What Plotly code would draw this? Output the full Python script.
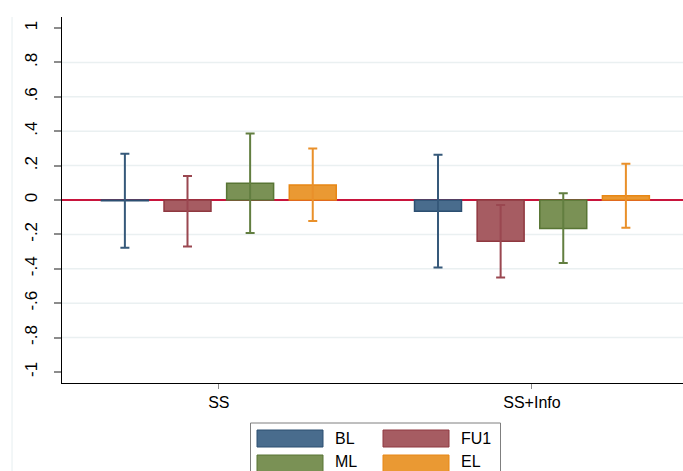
import plotly.graph_objects as go

groups = ["SS", "SS+Info"]
series = ["BL", "FU1", "ML", "EL"]
means = {
    "BL": [-0.004, -0.065],
    "FU1": [-0.065, -0.240],
    "ML": [0.097, -0.165],
    "EL": [0.087, 0.025],
}
ci_low = {
    "BL": [-0.277, -0.393],
    "FU1": [-0.271, -0.450],
    "ML": [-0.192, -0.366],
    "EL": [-0.122, -0.161],
}
ci_high = {
    "BL": [0.269, 0.263],
    "FU1": [0.140, -0.029],
    "ML": [0.386, 0.039],
    "EL": [0.300, 0.211],
}
ytick_vals = [1, 0.8, 0.6, 0.4, 0.2, 0, -0.2, -0.4, -0.6, -0.8, -1]
ytick_text = ["1", ".8", ".6", ".4", ".2", "0", "-.2", "-.4", "-.6", "-.8", "-1"]
grid_vals = [0.8, 0.6, 0.4, 0.2, -0.2, -0.4, -0.6, -0.8]

fills = {"BL": "#496c8d", "FU1": "#a65c62", "ML": "#7a9155", "EL": "#ea9933"}
lines = {"BL": "#2c4f71", "FU1": "#8f3840", "ML": "#587534", "EL": "#e88714"}
errc = {"BL": "#36597a", "FU1": "#9a4750", "ML": "#627e40", "EL": "#e9902a"}

W, H = 683, 471
L, R, T, B = 62, 0, 17, 88
FONT = "Arial, Liberation Sans, sans-serif"

fig = go.Figure()
for s in series:
    m = means[s]
    up = [h - v for h, v in zip(ci_high[s], m)]
    dn = [v - l for v, l in zip(m, ci_low[s])]
    fig.add_trace(go.Bar(
        x=groups, y=m, name=s,
        marker=dict(color=fills[s], line=dict(color=lines[s], width=1.5)),
        error_y=dict(type="data", array=up, arrayminus=dn, color=errc[s],
                     thickness=2, width=4.5),
        showlegend=False,
    ))

def fx(px):
    return (px - L) / (W - L - R)

def fy(py):
    return (H - B - py) / (H - T - B)

shapes = []
annotations = []
for g in grid_vals:
    shapes.append(dict(type="line", xref="paper", yref="y", x0=0, x1=1, y0=g, y1=g,
                       layer="below", line=dict(color="#eaf0f1", width=1.5)))
# faint outer region line
shapes.append(dict(type="line", xref="paper", yref="paper",
                   x0=fx(12), x1=fx(12), y0=fy(17), y1=fy(480),
                   line=dict(color="#e6eef0", width=1)))
# legend box
shapes.append(dict(type="rect", xref="paper", yref="paper",
                   x0=fx(250.5), x1=fx(500.5), y0=fy(423), y1=fy(500),
                   line=dict(color="#7f7f7f", width=1), fillcolor="white"))
key_pos = [(257, 430, 333, 438.5), (383, 430, 459, 438.5),
           (257, 455, 333, 461.5), (383, 455, 459, 461.5)]
for s, (kx, ky, tx, ty) in zip(series, key_pos):
    shapes.append(dict(type="rect", xref="paper", yref="paper",
                       x0=fx(kx), x1=fx(kx + 66), y0=fy(ky), y1=fy(ky + 17),
                       line=dict(color=lines[s], width=1), fillcolor=fills[s]))
    annotations.append(dict(xref="paper", yref="paper", x=fx(tx), y=fy(ty),
                            text=s, showarrow=False, xanchor="left", yanchor="middle",
                            font=dict(family=FONT, size=16, color="black")))

fig.update_layout(
    width=W, height=H,
    margin=dict(l=L, r=R, t=T, b=B, pad=0),
    paper_bgcolor="white", plot_bgcolor="white",
    barmode="group", bargap=0.2, bargroupgap=0.25,
    shapes=shapes, annotations=annotations,
    font=dict(family=FONT, size=16, color="black"),
    xaxis=dict(range=[-0.5008, 1.4824], showgrid=False, showline=True,
               linecolor="black", linewidth=1.2, ticks="outside", ticklen=5,
               tickcolor="#8c8c8c", tickwidth=1, tickfont=dict(size=16),
               zeroline=False, automargin=False),
    yaxis=dict(range=[-1.064, 1.064], tickvals=ytick_vals, ticktext=ytick_text,
               tickangle=-90, showgrid=False,
               showline=True, linecolor="black", linewidth=1.2,
               ticks="outside", ticklen=7, tickcolor="#8c8c8c", tickwidth=1.5,
               tickfont=dict(size=17), ticklabelstandoff=10,
               zeroline=True, zerolinecolor="#c8143c", zerolinewidth=2,
               automargin=False),
)

fig.write_html("out.html", config={"displayModeBar": False},
               post_script="document.body.style.margin='0';document.body.style.overflow='hidden';")
